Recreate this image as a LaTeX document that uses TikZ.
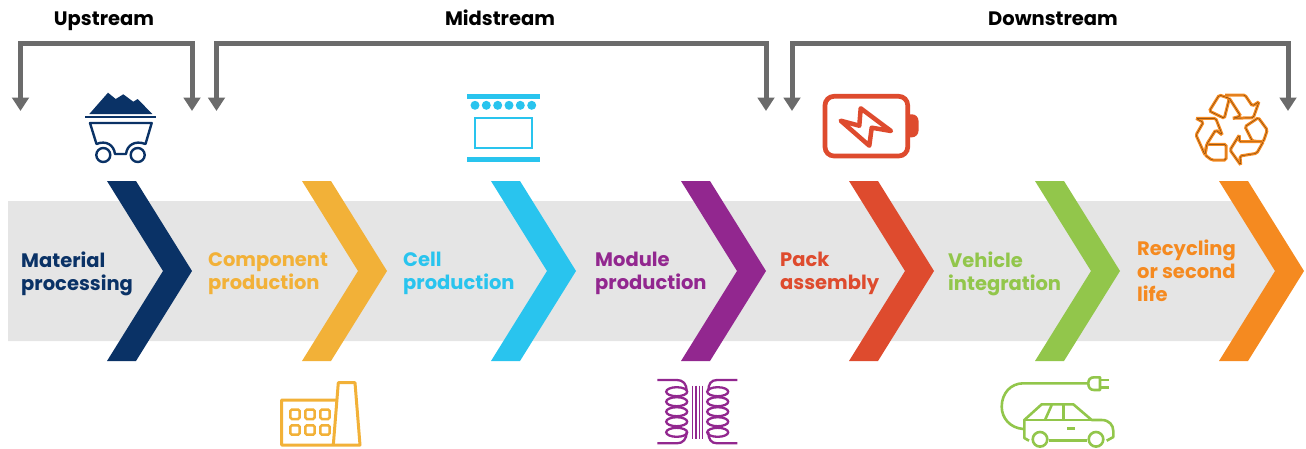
\documentclass[tikz,border=0pt]{standalone}
\usepackage{fontspec}
\setmainfont{Poppins}
\usetikzlibrary{arrows.meta}
\definecolor{navyC}{HTML}{0A3266}
\definecolor{yellowC}{HTML}{F2B138}
\definecolor{cyanC}{HTML}{29C4EE}
\definecolor{purpleC}{HTML}{92278F}
\definecolor{redC}{HTML}{DE4B2E}
\definecolor{greenC}{HTML}{92C64B}
\definecolor{orangeC}{HTML}{F58A20}
\definecolor{bandC}{HTML}{E5E5E5}
\definecolor{arrowC}{HTML}{6B6B6B}
\tikzset{
	bracket/.style={draw=arrowC, line width=5pt, {Triangle[width=16.5pt,length=13.5pt]}-{Triangle[width=16.5pt,length=13.5pt]}},
	stream/.style={font=\bfseries\fontsize{19.5}{23}\selectfont, text=black, inner sep=0pt, anchor=base},
	stage/.style={font=\bfseries\fontsize{19.5}{23}\selectfont, align=left, anchor=west, inner sep=0pt},
	recycle/.style={line join=round, rounded corners=1.5pt, preaction={draw=orangeC, line width=3pt}, draw=black!55!orangeC, line width=0.4pt}
}
\begin{document}
\begin{tikzpicture}[x=1pt, y=-1pt]
	\useasboundingbox (0,0) rectangle (1306,448);

	% band
	\fill[bandC] (8,201) -- (1245,201) -- (1280,271) -- (1245,341) -- (8,341) -- cycle;
	\foreach \x/\col in {107/navyC, 302/yellowC, 491/cyanC, 681/purpleC, 849/redC, 1035/greenC, 1219/orangeC}
		\fill[\col] (\x,181) -- (\x+29,181) -- (\x+85,271) -- (\x+29,361) -- (\x,361) -- (\x+56,271) -- cycle;

	\node[stage, text=navyC] (material) at (21,273.5) {Material\\processing};
	\node[stage, text=yellowC] (component) at (208,273.5) {Component\\production};
	\node[stage, text=cyanC] (cell) at (403,273.5) {Cell\\production};
	\node[stage, text=purpleC] (module) at (595,273.5) {Module\\production};
	\node[stage, text=redC] (pack) at (780,273.5) {Pack\\assembly};
	\node[stage, text=greenC] (vehicle) at (948,273.5) {Vehicle\\integration};
	\node[stage, text=orangeC] (recycling) at (1137,271) {Recycling\\or second\\life};

	% brackets
	\node[stream] (upstream) at (104,25) {Upstream};
	\node[stream] (midstream) at (500,25) {Midstream};
	\node[stream] (downstream) at (1053,25) {Downstream};
	\coordinate (upL) at (20.5,111);
	\coordinate (upR) at (192,111);
	\coordinate (midL) at (216.5,111);
	\coordinate (midR) at (766,111);
	\coordinate (downL) at (792,111);
	\coordinate (downR) at (1288,111);
	\draw[bracket] (upL) -- ++(0,-67.5) -| (upR);
	\draw[bracket] (midL) -- ++(0,-67.5) -| (midR);
	\draw[bracket] (downL) -- ++(0,-67.5) -| (downR);

	% cart
	\fill[navyC] (89.3,114) -- (108,92.7) -- (115.7,99) -- (123.3,94.3) -- (133.3,101.7) -- (137.7,99) -- (152.3,114) -- cycle;
	\draw[navyC, line width=2.5pt] (85.3,117) -- (156,117);
	\draw[navyC, line width=2.4pt, line join=round] (90,123) -- (151.7,123) -- (145.5,144) .. controls (135,140) and (127,145) .. (126,154) -- (115,154) .. controls (114,145) and (106,140) .. (96.5,144) -- cycle;
	\draw[navyC, line width=2.4pt, fill=white] (103.3,155) circle[radius=7pt];
	\draw[navyC, line width=2.4pt, fill=white] (137.7,155) circle[radius=7pt];

	% cell
	\fill[cyanC] (466.7,94) rectangle (540,99);
	\fill[cyanC] (466.7,156.7) rectangle (540,161.7);
	\foreach \x in {475,486.3,497.7,509,520.3,531.7}
		\fill[cyanC] (\x,105.3) circle[radius=4.5pt];
	\draw[cyanC, line width=2pt] (474.7,118) rectangle (532,148);

	% battery
	\fill[redC, rounded corners=6.5pt] (900,114.3) -- (918.5,114.3) -- (918.5,137.3) -- (900,137.3) -- cycle;
	\draw[redC, line width=4.7pt, fill=white, rounded corners=9pt] (825,96.3) rectangle (907.7,156);
	\draw[redC, line width=4.5pt, line join=round] (840.7,120.7) -- (859.3,125.7) -- (860.7,108.3) -- (891,131) -- (871.7,127.7) -- (869.3,145.7) -- cycle;

	% recycle
	\draw[recycle] (1209.3,111) -- (1219.3,95) -- (1229.3,98.3) -- (1224.3,118.3) -- cycle;
	\draw[recycle] (1225,95) -- (1245,95) -- (1252.3,106) -- (1259,101.7) -- (1253.3,117.7) -- (1232.7,118.3) -- (1240.7,116) -- (1229.3,98.3);
	\draw[recycle] (1245,126.7) -- (1258.3,117.7) -- (1267.3,130) -- (1263.3,141.7) -- (1252.3,141) -- cycle;
	\draw[recycle] (1263.3,141.7) -- (1256.7,153.3) -- (1240,156) -- (1240.7,165) -- (1230,150) -- (1239.3,135) -- (1239.3,141.7) -- cycle;
	\draw[recycle] (1206.7,144.3) -- (1226,144.3) -- (1226,160) -- (1211.7,160) -- (1205,155) -- cycle;
	\draw[recycle] (1196,118.3) -- (1215.7,118.3) -- (1222.3,135) -- (1215.7,130) -- (1206.7,144.3) -- (1205,155) -- (1196,135) -- (1203.3,122.3) -- cycle;

	% factory
	\draw[yellowC, line width=3pt, line join=round] (336.7,400) -- (281.7,400) -- (281.7,445) -- (360,445) -- (355,382.7) -- (338.3,382.7) -- (333.3,445);
	\foreach \x in {295,310,325}
		\foreach \y in {414.3,430}
			\draw[yellowC, line width=2.5pt, rounded corners=1.5pt] (\x-4.7,\y-4.7) rectangle (\x+4.7,\y+4.7);

	% transformer
	\foreach \y in {391.7,401.7,411.7,421.7,432.3} {
		\draw[purpleC, line width=2.3pt] (676.7,\y) ellipse[x radius=10.5pt, y radius=4.5pt];
		\draw[purpleC, line width=2.3pt] (717.7,\y) ellipse[x radius=10.5pt, y radius=4.5pt];
	}
	\draw[purpleC, line width=2.3pt] (657.3,380) -- (677,380) .. controls (683,380) and (686.7,384) .. (686.7,391);
	\draw[purpleC, line width=2.3pt] (657.3,443.3) -- (677,443.3) .. controls (683,443.3) and (686.7,439) .. (686.7,432);
	\draw[purpleC, line width=2.3pt] (737.3,380) -- (717,380) .. controls (711,380) and (708.3,384) .. (708.3,391);
	\draw[purpleC, line width=2.3pt] (737.3,443.3) -- (717,443.3) .. controls (711,443.3) and (708.3,439) .. (708.3,432);
	\foreach \x in {692.7,696,699.3,702.7}
		\draw[purpleC, line width=1.4pt] (\x,385.7) -- (\x,439);

	% car
	\draw[greenC, line width=2.6pt, line join=round] (1029,440.7) -- (1024.3,438) -- (1024.3,420) -- (1041.7,404.3) -- (1073.3,404.3) -- (1091.7,420) -- (1101.7,420) .. controls (1109,420) and (1113.3,425) .. (1113.3,431) -- (1113.3,437) -- (1106.7,440.7);
	\draw[greenC, line width=2.6pt] (1024.3,420) -- (1091.7,420);
	\draw[greenC, line width=2.6pt] (1049.3,440.7) -- (1086.7,440.7);
	\draw[greenC, line width=2.6pt] (1051.7,405) -- (1045,420);
	\draw[greenC, line width=2.6pt] (1063.3,405) -- (1063.3,420);
	\draw[greenC, line width=2.6pt] (1067.3,428.7) -- (1075,428.7);
	\draw[greenC, line width=2.6pt, fill=white] (1040,439.3) circle[radius=7.3pt];
	\draw[greenC, line width=2.6pt, fill=white] (1096,439.3) circle[radius=7.3pt];
	\draw[greenC, line width=2.6pt] (1023.3,429) .. controls (1010,428) and (1001.7,418) .. (1001.7,406.7) .. controls (1001.7,393) and (1011,383.3) .. (1023.3,383.3) -- (1088.3,383.3);
	\draw[greenC, line width=2.6pt, line join=round] (1100,377.3) -- (1094,377.3) .. controls (1090,377.3) and (1088.3,380) .. (1088.3,383.3) .. controls (1088.3,387) and (1090,390) .. (1094,390) -- (1100,390) -- cycle;
	\draw[greenC, line width=2.6pt] (1100,380) -- (1109.3,380);
	\draw[greenC, line width=2.6pt] (1100,387.3) -- (1109.3,387.3);
\end{tikzpicture}
\end{document}
